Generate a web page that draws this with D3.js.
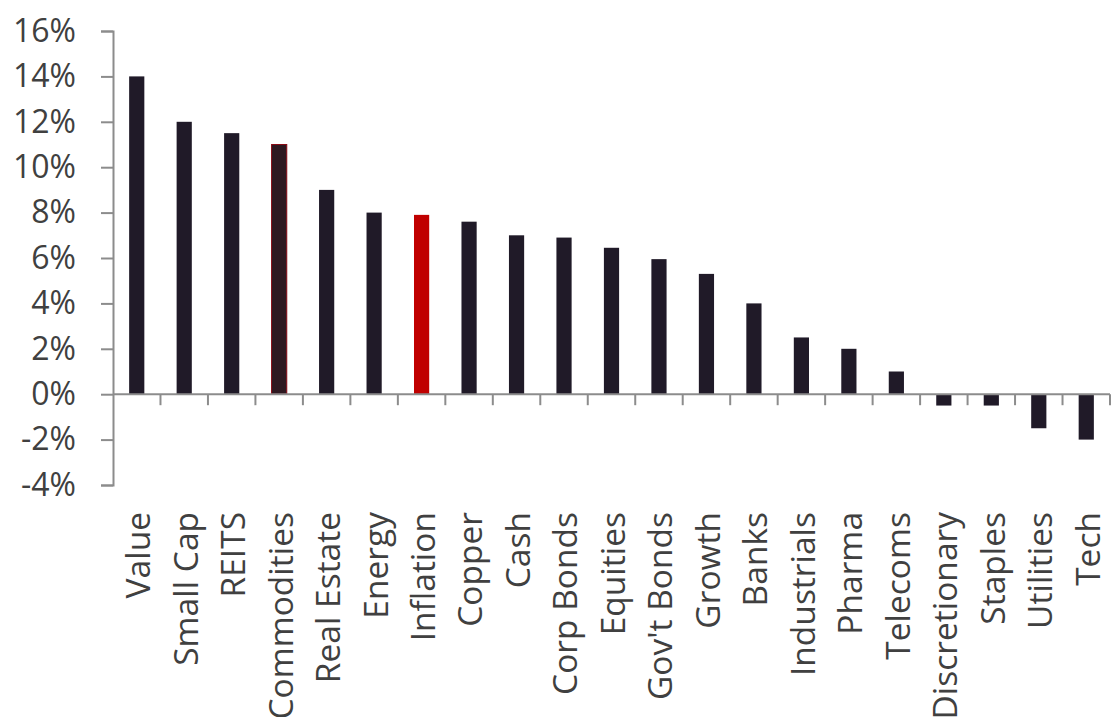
<!DOCTYPE html>
<html>
<head>
<meta charset="utf-8">
<script src="https://cdn.jsdelivr.net/npm/d3@7"></script>
<style>
    html, body { margin: 0; padding: 0; background: #fff; }
    svg { display: block; }
    text { font-family: "Open Sans", "Liberation Sans", sans-serif; fill: #404040; }
</style>
</head>
<body>
<div id="chart"></div>
<script>
const categories = [
    'Value', 'Small Cap', 'REITS', 'Commodities', 'Real Estate', 'Energy', 'Inflation',
    'Copper', 'Cash', 'Corp Bonds', 'Equities', "Gov't Bonds", 'Growth', 'Banks',
    'Industrials', 'Pharma', 'Telecoms', 'Discretionary', 'Staples', 'Utilities', 'Tech',
];
const values = [
    14.0, 12.0, 11.5, 11.0, 9.0, 8.0, 7.9,
    7.6, 7.0, 6.9, 6.45, 5.95, 5.3, 4.0,
    2.5, 2.0, 1.0, -0.5, -0.5, -1.5, -2.0,
];
const yTicks = [-4, -2, 0, 2, 4, 6, 8, 10, 12, 14, 16];
const highlight = { Inflation: 'inflation', Commodities: 'commodities' };

const width = 1116;
const height = 717;
const margin = { top: 31, right: 6, bottom: 232, left: 113 };

const svg = d3.select('#chart')
    .append('svg')
    .attr('width', width)
    .attr('height', height);

const x = d3.scaleBand()
    .domain(categories)
    .range([margin.left, width - margin.right])
    .paddingInner(0.68)
    .paddingOuter(0.34);

// same slots without padding, used for the category separator ticks
const xSlot = d3.scaleBand()
    .domain(categories)
    .range(x.range());

const y = d3.scaleLinear()
    .domain([-4, 16])
    .range([height - margin.bottom, margin.top]);

const data = categories.map((c, i) => ({ name: c, value: values[i] }));

const fill = (d) => {
    if (highlight[d.name] === 'inflation') return '#c00000';
    if (highlight[d.name] === 'commodities') return '#2e1820';
    return '#201a28';
};

svg.append('g')
    .selectAll('rect')
    .data(data)
    .join('rect')
    .attr('x', (d) => x(d.name))
    .attr('width', x.bandwidth())
    .attr('y', (d) => y(Math.max(0, d.value)))
    .attr('height', (d) => Math.abs(y(d.value) - y(0)))
    .attr('fill', fill)
    .attr('stroke', (d) => (highlight[d.name] === 'commodities' ? '#8a0a14' : 'none'))
    .attr('stroke-width', 1);

// y axis
const yAxisG = svg.append('g')
    .attr('transform', `translate(${margin.left},0)`)
    .call(d3.axisLeft(y)
        .tickValues(yTicks)
        .tickSize(12)
        .tickPadding(25)
        .tickFormat((d) => `${d}%`));

yAxisG.selectAll('line, path').attr('stroke', '#8c8c8c').attr('stroke-width', 2);
yAxisG.selectAll('text')
    .style('font-size', '32px')
    .attr('fill', '#404040');

// x axis: baseline at zero, ticks between categories
const xAxisG = svg.append('g');
xAxisG.append('line')
    .attr('x1', x.range()[0])
    .attr('x2', x.range()[1])
    .attr('y1', y(0))
    .attr('y2', y(0))
    .attr('stroke', '#8c8c8c')
    .attr('stroke-width', 2);

xAxisG.selectAll('.sep')
    .data(categories)
    .join('line')
    .attr('class', 'sep')
    .attr('x1', (d) => xSlot(d) + xSlot.bandwidth())
    .attr('x2', (d) => xSlot(d) + xSlot.bandwidth())
    .attr('y1', y(0))
    .attr('y2', y(0) + 11)
    .attr('stroke', '#8c8c8c')
    .attr('stroke-width', 2);

const labelG = svg.append('g')
    .attr('transform', `translate(0,${y(-4) + 27})`)
    .call(d3.axisBottom(x).tickSize(0).tickPadding(0));

labelG.select('.domain').remove();
labelG.selectAll('text')
    .style('font-size', '33.5px')
    .attr('fill', '#404040')
    .style('text-anchor', 'end')
    .attr('x', 0)
    .attr('y', 0)
    .attr('dy', '0.4em')
    .attr('transform', 'rotate(-90)');
</script>
</body>
</html>
